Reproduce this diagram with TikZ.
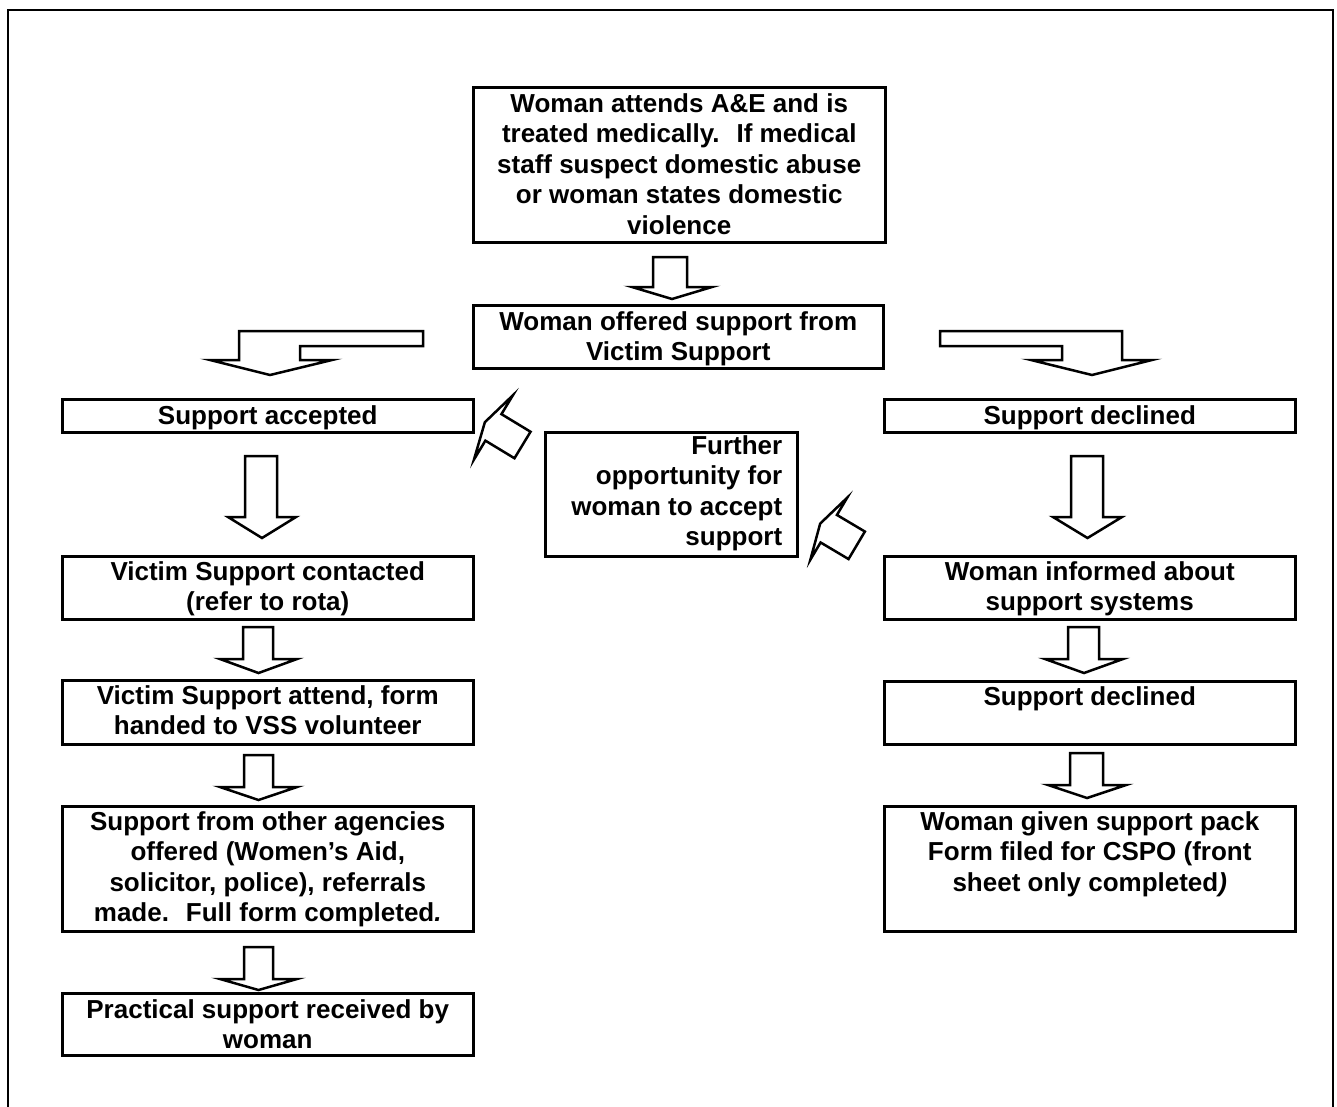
\documentclass[tikz,border=0pt]{standalone}
\usepackage{fontspec}
\setmainfont{Liberation Sans}
\newcommand\bx[4]{\parbox[c][#2][t]{#1}{\centering\rule{0pt}{#3}#4}}
\newcommand\blkdn[7]{% xl xr top base bl br tip
  \draw[blk] (#1,#3) -- (#2,#3) -- (#2,#4) -- (#6,#4) -- ({(#5+#6)/2},#7) -- (#5,#4) -- (#1,#4) -- cycle;}
\begin{document}
\begin{tikzpicture}[x=1pt,y=-1pt,
  every node/.style={font=\bfseries\fontsize{26}{30.5}\selectfont},
  box/.style={draw, line width=2.5pt, inner sep=0pt, anchor=north west},
  blk/.style={draw, line width=2.5pt, line join=miter, fill=white},
  frame/.style={draw, line width=2pt}]
\useasboundingbox (0,0) rectangle (1337,1106);
\draw[frame] (8,1110) -- (8,10) -- (1333,10) -- (1333,1110);

% boxes
\node[box] (top) at (472,86) {\bx{412pt}{155pt}{25pt}{Woman attends A\&E and is\\treated medically.~ If medical\\staff suspect domestic abuse\\or woman states domestic\\violence}};
\node[box] (offer) at (472,304) {\bx{410pt}{63pt}{25pt}{Woman offered support from\\Victim Support}};
\node[box] (acc) at (61,398) {\bx{411pt}{33pt}{25pt}{Support accepted}};
\node[box] (dec) at (883,398) {\bx{411pt}{33pt}{25pt}{Support declined}};
\node[box] (further) at (544,431) {\parbox[c][124pt][t]{252pt}{\raggedleft\rightskip=15pt\rule{0pt}{22pt}Further\\opportunity for\\woman to accept\\support}};
\node[box] (vsc) at (61,555) {\bx{411pt}{63pt}{24pt}{Victim Support contacted\\(refer to rota)}};
\node[box] (inf) at (883,555) {\bx{411pt}{63pt}{24pt}{Woman informed about\\support systems}};
\node[box] (vsa) at (61,679) {\bx{411pt}{64pt}{24pt}{Victim Support attend, form\\handed to VSS volunteer}};
\node[box] (dec2) at (883,680) {\bx{411pt}{63pt}{24pt}{Support declined}};
\node[box] (other) at (61,805) {\bx{411pt}{125pt}{24pt}{Support from other agencies\\offered (Women’s Aid,\\solicitor, police), referrals\\made.~ Full form completed{\itshape .}}};
\node[box] (pack) at (883,805) {\bx{411pt}{125pt}{24pt}{Woman given support pack\\Form filed for CSPO (front\\sheet only completed{\itshape )}}};
\node[box] (prac) at (61,992) {\bx{411pt}{62pt}{25pt}{Practical support received by\\woman}};

% straight block arrows
\blkdn{653}{687}{257}{287}{632}{712}{299}
\blkdn{245}{277}{456}{517}{228}{296}{538}
\blkdn{243}{273}{627}{659}{220}{297}{673}
\blkdn{244}{273}{755}{787}{220}{297}{800}
\blkdn{244}{273}{947}{979}{220}{297}{990}
\blkdn{1071}{1103}{456}{517}{1053}{1122}{538}
\blkdn{1068}{1099}{627}{659}{1045}{1123}{673}
\blkdn{1070}{1103}{753}{785}{1048}{1126}{798}

% bent block arrows
\draw[blk] (423,331) -- (239,331) -- (239,360) -- (210,360) -- (270,375) -- (332,360) -- (300,360) -- (300,346) -- (423,346) -- cycle;
\draw[blk] (940,331) -- (1122,331) -- (1122,360) -- (1152,360) -- (1092,375) -- (1031,360) -- (1062,360) -- (1062,346) -- (940,346) -- cycle;

% diagonal block arrows
\begin{scope}[shift={(522.5,445)}, rotate=148.8]
  \draw[blk] (0,-15.5) -- (34,-15.5) -- (34,-37.5) -- (44,0) -- (34,37.5) -- (34,15.5) -- (0,15.5) -- cycle;
\end{scope}
\begin{scope}[shift={(856.7,545.3)}, rotate=149.3]
  \draw[blk] (0,-16) -- (32.5,-16) -- (32.5,-36) -- (42.5,0) -- (32.5,36) -- (32.5,16) -- (0,16) -- cycle;
\end{scope}
\end{tikzpicture}
\end{document}
